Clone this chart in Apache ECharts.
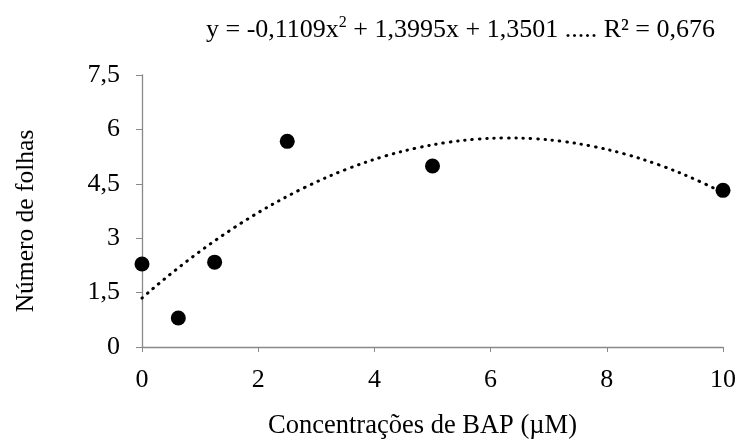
<!DOCTYPE html>
<html lang="pt">
<head>
    <meta charset="UTF-8">
    <title>Número de folhas x BAP</title>
    <script src="https://cdn.jsdelivr.net/npm/echarts@6.0.0/dist/echarts.min.js"></script>
</head>
<body style="margin:0">
    <div id="main" style="width: 740px;height:445px;"></div>
    <script type="text/javascript">
        // concentrações de BAP (µM) e número médio de folhas
        const bapDoses = [0, 0.625, 1.25, 2.5, 5, 10];
        const numFolhas = [2.29, 0.8, 2.34, 5.67, 4.99, 4.32];
        // coeficientes da linha de tendência polinomial (a, b, c) e R²
        const trendCoef = [-0.1109, 1.3995, 1.3501];
        const rSquared = 0.676;

        const yTicks = [0, 1.5, 3, 4.5, 6, 7.5];
        const xTicks = [0, 2, 4, 6, 8, 10];

        // pontos da curva a partir da equação mostrada no gráfico
        const trend = [];
        for (let i = 0; i <= 100; i++) {
            const x = i / 10;
            trend.push([x, trendCoef[0] * x * x + trendCoef[1] * x + trendCoef[2]]);
        }

        const comma = v => String(v).replace('.', ',');
        const font = 'Liberation Serif';
        const grey = '#898989';

        let myChart = echarts.init(document.getElementById('main'));
        let options = {
            textStyle: { fontFamily: font },
            title: {
                text: '{t|y = ' + comma(trendCoef[0]) + 'x}{s|2}{t| + ' + comma(trendCoef[1]) +
                    'x + ' + comma(trendCoef[2]) + ' ..... R² = ' + comma(rSquared) + '}',
                right: 20,
                top: 10,
                textStyle: {
                    fontWeight: 'normal',
                    rich: {
                        t: { fontFamily: font, fontSize: 26, fontWeight: 'normal', color: '#000', lineHeight: 30 },
                        s: { fontFamily: font, fontSize: 16, fontWeight: 'normal', color: '#000', lineHeight: 30, verticalAlign: 'top' }
                    }
                }
            },
            grid: { left: 142, right: 17, top: 75, bottom: 98 },
            xAxis: {
                type: 'value',
                min: xTicks[0],
                max: xTicks[xTicks.length - 1],
                interval: 2,
                name: 'Concentrações de BAP (µM)',
                nameLocation: 'middle',
                nameGap: 66,
                nameTextStyle: { fontFamily: font, fontSize: 26.5, color: '#000', padding: [0, 20, 0, 0] },
                axisLine: { lineStyle: { color: grey, width: 1.3 } },
                axisTick: { show: true, length: 5, lineStyle: { color: grey } },
                axisLabel: { fontFamily: font, fontSize: 26, color: '#000', margin: 20 },
                splitLine: { show: false }
            },
            yAxis: {
                type: 'value',
                min: yTicks[0],
                max: yTicks[yTicks.length - 1],
                interval: 1.5,
                name: 'Número de folhas',
                nameLocation: 'middle',
                nameGap: 103,
                nameTextStyle: { fontFamily: font, fontSize: 25.5, color: '#000', padding: [0, 20, 0, 0] },
                axisLine: { show: true, lineStyle: { color: grey, width: 1.3 } },
                axisTick: { show: true, length: 6, lineStyle: { color: grey } },
                axisLabel: { fontFamily: font, fontSize: 26, color: '#000', margin: 22, formatter: comma },
                splitLine: { show: false }
            },
            series: [
                {
                    type: 'line',
                    data: trend,
                    showSymbol: false,
                    smooth: true,
                    silent: true,
                    lineStyle: { color: '#000', width: 3, type: [0.5, 6.8], cap: 'round' },
                    z: 1
                },
                {
                    type: 'scatter',
                    data: bapDoses.map((x, i) => [x, numFolhas[i]]),
                    symbolSize: 15,
                    itemStyle: { color: '#000', opacity: 1 },
                    z: 2
                }
            ]
        };
        myChart.setOption(options);
    </script>
</body>
</html>
